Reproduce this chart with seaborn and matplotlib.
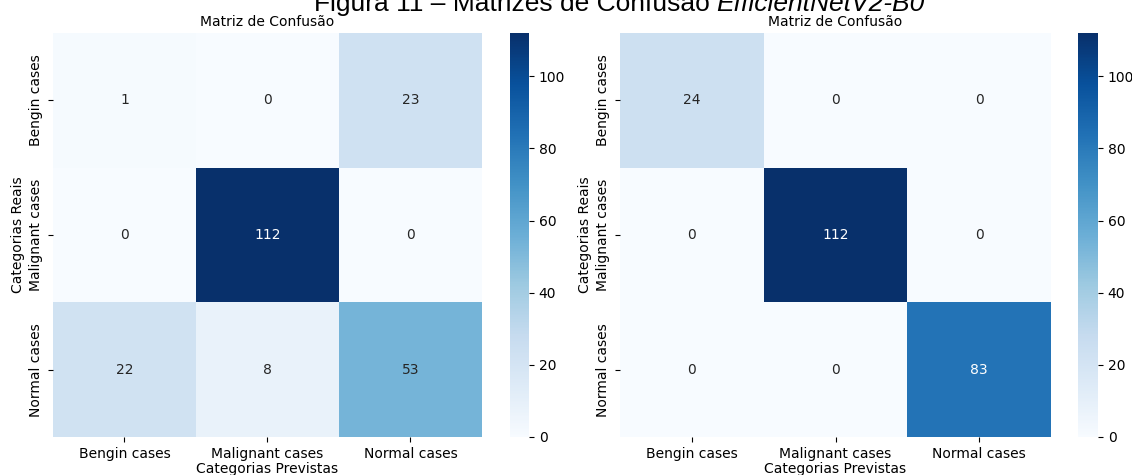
import numpy as np
import matplotlib
matplotlib.use("Agg")
import matplotlib.pyplot as plt
import seaborn as sns

labels = ["Bengin cases", "Malignant cases", "Normal cases"]
cm_left = np.array([[1, 0, 23],
                    [0, 112, 0],
                    [22, 8, 53]])
cm_right = np.array([[24, 0, 0],
                     [0, 112, 0],
                     [0, 0, 83]])

W, H = 1132, 475
fig = plt.figure(figsize=(W / 100, H / 100), dpi=100)

def box(x0, x1, y0, y1):
    # pixel box -> figure coords
    return [x0 / W, (H - y1) / H, (x1 - x0) / W, (y1 - y0) / H]

panels = [
    (cm_left, box(53, 482, 33, 437), box(510, 529, 33, 437)),
    (cm_right, box(620, 1051, 33, 437), box(1078, 1098, 33, 437)),
]

for cm, ax_pos, cb_pos in panels:
    ax = fig.add_axes(ax_pos)
    cax = fig.add_axes(cb_pos)
    sns.heatmap(cm, annot=True, fmt="d", cmap="Blues",
                xticklabels=labels, yticklabels=labels,
                ax=ax, cbar_ax=cax)
    ax.set_title("Matriz de Confusão", fontsize=10, pad=5)
    ax.set_xlabel("Categorias Previstas", fontsize=10, labelpad=1)
    ax.set_ylabel("Categorias Reais", fontsize=10, labelpad=3)
    ax.tick_params(axis="y", labelrotation=90)
    ax.tick_params(axis="x", labelrotation=0)
    for t in ax.get_yticklabels():
        t.set_va("center")

# suptitle, cut off at the top like the original screenshot
fig.text(710 / W, 1 - 11 / H, "Figura 11 – Matrizes de Confusão", ha="right",
         va="baseline", fontsize=19, family="Liberation Sans")
fig.text(716 / W, 1 - 11 / H, "EfficientNetV2-B0", ha="left",
         va="baseline", fontsize=19, family="Liberation Sans", style="italic")

fig.savefig("out.png", dpi=100)
